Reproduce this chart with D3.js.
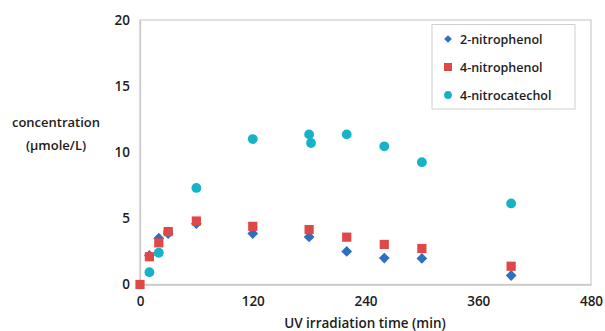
<!DOCTYPE html>
<html><head><meta charset="utf-8">
<script src="https://cdn.jsdelivr.net/npm/d3@7"></script>
<style>body{margin:0;background:#fff;}svg{display:block;font-family:"Open Sans",Lato,sans-serif;}</style>
</head><body><svg id="c" width="605" height="331"></svg>
<script>
const times2NP = [10, 20, 30, 60, 120, 180, 220, 260, 300, 395];
const vals2NP  = [2.2, 3.5, 3.85, 4.6, 3.85, 3.6, 2.5, 2.0, 1.97, 0.68];
const times4NP = [0, 10, 20, 30, 60, 120, 180, 220, 260, 300, 395];
const vals4NP  = [0, 2.1, 3.15, 4.0, 4.8, 4.4, 4.15, 3.58, 3.03, 2.72, 1.38];
const times4NC = [10, 20, 30, 60, 120, 180, 182, 220, 260, 300, 395];
const vals4NC  = [0.93, 2.4, 4.0, 7.3, 11.0, 11.35, 10.7, 11.35, 10.45, 9.25, 6.13];
const xTicks = [0, 120, 240, 360, 480];
const yTicks = [0, 5, 10, 15, 20];
const seriesNames = ["2-nitrophenol", "4-nitrophenol", "4-nitrocatechol"];
const colors = ["#2e70bf", "#e04848", "#16b2c8"];

const svg = d3.select("#c");
const L = 140, R = 591, T = 20, B = 284.5;
const x = d3.scaleLinear().domain([0, 480]).range([L, R]);
const y = d3.scaleLinear().domain([0, 20]).range([B, T]);
const TXT = "#1c1c1c", W = 600;

svg.append("rect").attr("x", L).attr("y", T).attr("width", R - L).attr("height", B - T)
  .attr("fill", "none").attr("stroke", "#d0d0d0").attr("stroke-width", 1.3);

const xAxis = svg.append("g").attr("transform", `translate(0,${B})`)
  .call(d3.axisBottom(x).tickValues(xTicks).tickSize(0).tickPadding(12));
const yAxis = svg.append("g").attr("transform", `translate(${L},0)`)
  .call(d3.axisLeft(y).tickValues(yTicks).tickSize(0).tickPadding(10));
[xAxis, yAxis].forEach(a => {
  a.select(".domain").attr("stroke", "#c8c8c8").attr("stroke-width", 1.3);
  a.selectAll("text").attr("font-size", 13.5).attr("fill", TXT).attr("font-weight", W)
    .attr("font-family", "'Open Sans',sans-serif");
});

svg.append("text").attr("x", 365).attr("y", 328).attr("text-anchor", "middle").attr("font-weight", W)
  .attr("font-size", 13.5).attr("fill", TXT).text("UV irradiation time (min)");
svg.append("text").attr("x", 56).attr("y", 127).attr("text-anchor", "middle").attr("font-weight", W)
  .attr("font-size", 13).attr("fill", TXT).text("concentration");
svg.append("text").attr("x", 56).attr("y", 150).attr("text-anchor", "middle").attr("font-weight", W)
  .attr("font-size", 13).attr("fill", TXT).text("(µmole/L)");

const diamond = d3.symbol().type(d3.symbolSquare).size(58)();
const plot = svg.append("g");
plot.selectAll("circle.nc").data(times4NC.map((t, i) => [t, vals4NC[i]])).join("circle")
  .attr("cx", d => x(d[0])).attr("cy", d => y(d[1])).attr("r", 4.9).attr("fill", colors[2]);
plot.selectAll("path.np2").data(times2NP.map((t, i) => [t, vals2NP[i]])).join("path")
  .attr("class", "np2").attr("d", diamond)
  .attr("transform", d => `translate(${x(d[0])},${y(d[1])}) rotate(45)`).attr("fill", colors[0]);
plot.selectAll("rect.np4").data(times4NP.map((t, i) => [t, vals4NP[i]])).join("rect")
  .attr("class", "np4").attr("x", d => x(d[0]) - 4.6).attr("y", d => y(d[1]) - 4.6)
  .attr("width", 9.2).attr("height", 9.2).attr("fill", colors[1]);

const lg = svg.append("g");
lg.append("rect").attr("x", 432).attr("y", 24.5).attr("width", 143).attr("height", 84.5)
  .attr("fill", "#fff").attr("stroke", "#d0d0d0").attr("stroke-width", 1);
const ly = [39, 67, 95];
seriesNames.forEach((n, i) => {
  const g = lg.append("g").attr("transform", `translate(448,${ly[i]})`);
  if (i === 0) g.append("path").attr("d", d3.symbol().type(d3.symbolSquare).size(30)()).attr("transform", "rotate(45)").attr("fill", colors[0]);
  else if (i === 1) g.append("rect").attr("x", -4).attr("y", -4).attr("width", 8).attr("height", 8).attr("fill", colors[1]);
  else g.append("circle").attr("r", 3.9).attr("fill", colors[2]);
  g.append("text").attr("x", 12).attr("y", 4.5).attr("font-size", 12.5).attr("font-weight", W)
    .attr("fill", TXT).text(n);
});
</script></body></html>
